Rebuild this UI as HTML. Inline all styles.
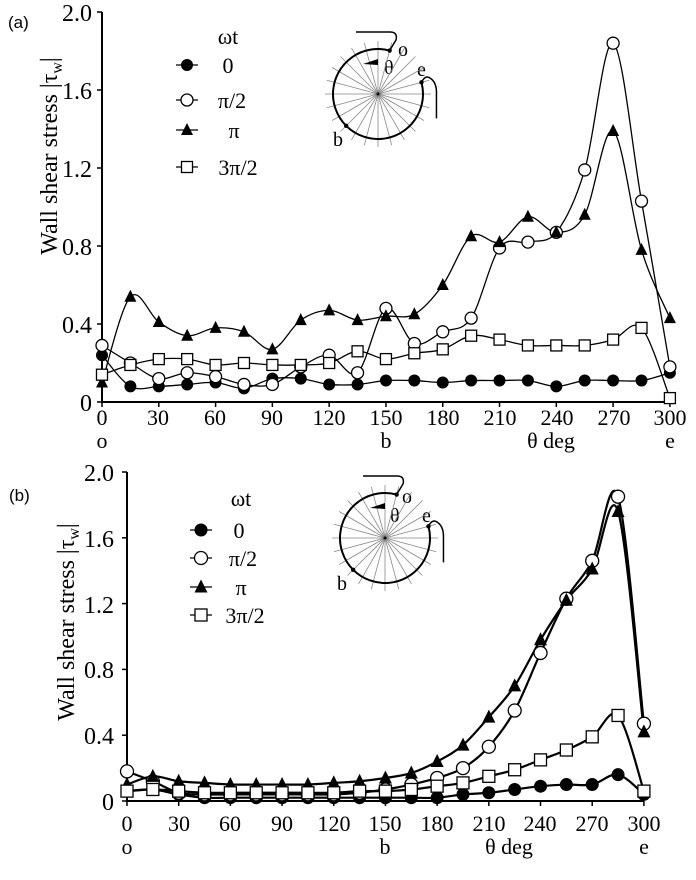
<!DOCTYPE html>
<html><head><meta charset="utf-8"><style>
html,body{margin:0;padding:0;background:#fff;}
svg{display:block;}
text{font-family:"Liberation Serif",serif;fill:#000;}
.sans{font-family:"Liberation Sans",sans-serif;}
</style></head><body>
<svg id="s" width="696" height="880" viewBox="0 0 696 880" xmlns="http://www.w3.org/2000/svg">
<!-- Panel a static text -->
<text class="sans" x="8" y="28" font-size="17">(a)</text>
<g font-size="24" text-anchor="end">
<text x="92" y="21">2.0</text><text x="92" y="99">1.6</text><text x="92" y="177">1.2</text>
<text x="92" y="255">0.8</text><text x="92" y="333">0.4</text><text x="92" y="411">0</text>
</g>
<g font-size="22" text-anchor="middle">
<text x="102" y="425">0</text><text x="158" y="425">30</text><text x="215" y="425">60</text>
<text x="272" y="425">90</text><text x="329" y="425">120</text><text x="386" y="425">150</text>
<text x="443" y="425">180</text><text x="500" y="425">210</text><text x="557" y="425">240</text>
<text x="614" y="425">270</text><text x="670" y="425">300</text>
<text x="102" y="448">o</text><text x="386" y="448">b</text><text x="551" y="448">θ deg</text><text x="670" y="448">e</text>
</g>
<text font-size="24" transform="translate(57,156) rotate(-90)" text-anchor="middle">Wall shear stress |τ<tspan font-size="16" dy="5">w</tspan><tspan dy="-5">|</tspan></text>
<g font-size="22" text-anchor="middle">
<text x="228" y="44">ωt</text><text x="228" y="73">0</text><text x="232" y="108">π/2</text>
<text x="234" y="138">π</text><text x="238" y="175">3π/2</text>
</g>
<g font-size="20"><text x="398" y="56">o</text><text x="384" y="74">θ</text><text x="417" y="76">e</text><text x="333" y="146">b</text></g>

<!-- Panel b static text -->
<text class="sans" x="9" y="501" font-size="17">(b)</text>
<g font-size="24" text-anchor="end">
<text x="114" y="481">2.0</text><text x="114" y="547">1.6</text><text x="114" y="613">1.2</text>
<text x="114" y="678">0.8</text><text x="114" y="744">0.4</text><text x="114" y="810">0</text>
</g>
<g font-size="22" text-anchor="middle">
<text x="127" y="831">0</text><text x="179" y="831">30</text><text x="230" y="831">60</text>
<text x="282" y="831">90</text><text x="334" y="831">120</text><text x="385" y="831">150</text>
<text x="437" y="831">180</text><text x="489" y="831">210</text><text x="540" y="831">240</text>
<text x="592" y="831">270</text><text x="644" y="831">300</text>
<text x="127" y="854">o</text><text x="385" y="854">b</text><text x="509" y="854">θ deg</text><text x="644" y="854">e</text>
</g>
<text font-size="24" transform="translate(74,622) rotate(-90)" text-anchor="middle">Wall shear stress |τ<tspan font-size="16" dy="5">w</tspan><tspan dy="-5">|</tspan></text>
<g font-size="22" text-anchor="middle">
<text x="241" y="506">ωt</text><text x="239" y="538">0</text><text x="243" y="566">π/2</text>
<text x="241" y="595">π</text><text x="245" y="623">3π/2</text>
</g>
<g font-size="20"><text x="402" y="503">o</text><text x="390" y="522">θ</text><text x="422" y="522">e</text><text x="337" y="590">b</text></g>
<g id="dyn"></g>
</svg>
<script>
var NS="http://www.w3.org/2000/svg",g=document.getElementById("dyn");
function el(t,a){var e=document.createElementNS(NS,t);for(var k in a)e.setAttribute(k,a[k]);g.appendChild(e);return e;}
function marker(type,x,y,r){
 if(type==0)el("circle",{cx:x,cy:y,r:r,fill:"#000"});
 else if(type==1)el("circle",{cx:x,cy:y,r:r,fill:"#fff",stroke:"#000","stroke-width":1.3});
 else if(type==2)el("polygon",{points:(x)+","+(y-r-1)+" "+(x-r)+","+(y+r-1)+" "+(x+r)+","+(y+r-1),fill:"#000"});
 else el("rect",{x:x-r+0.5,y:y-r+0.5,width:2*r-1,height:2*r-1,fill:"#fff",stroke:"#000","stroke-width":1.3});
}
function smooth(p){var d="M"+p[0][0]+","+p[0][1];
 for(var i=0;i<p.length-1;i++){var p0=p[i-1]||p[i],p1=p[i],p2=p[i+1],p3=p[i+2]||p2;
  d+=" C"+(p1[0]+(p2[0]-p0[0])/6)+","+(p1[1]+(p2[1]-p0[1])/6)+" "+(p2[0]-(p3[0]-p1[0])/6)+","+(p2[1]-(p3[1]-p1[1])/6)+" "+p2[0]+","+p2[1];}
 return d;}
function panel(P){
 // axes
 el("path",{d:"M"+P.x0+","+P.yt+" L"+P.x0+","+P.y0+" L"+P.x1+","+P.y0,fill:"none",stroke:"#000","stroke-width":2});
 for(var i=0;i<=5;i++){var y=P.y0-i*0.4*P.sy;el("line",{x1:P.x0-5,y1:y,x2:P.x0,y2:y,stroke:"#000","stroke-width":1.5});}
 for(var i=0;i<=10;i++){var x=P.x0+i*30*P.sx;el("line",{x1:x,y1:P.y0,x2:x,y2:P.y0+5,stroke:"#000","stroke-width":1.5});}
 P.data.forEach(function(d,k){var pts=d.map(function(v,i){return[P.x0+i*15*P.sx,P.y0-v*P.sy];});
  el("path",{d:smooth(pts),fill:"none",stroke:"#000","stroke-width":P.lw});});
 P.data.forEach(function(d,k){d.forEach(function(v,i){marker(k,P.x0+i*15*P.sx,P.y0-v*P.sy,P.r);});});
 // legend
 P.leg.forEach(function(y,k){el("line",{x1:P.lx-11,y1:y,x2:P.lx+11,y2:y,stroke:"#000","stroke-width":1.3});marker(k,P.lx,y,P.r);});
 // inset
 var cx=P.cx,cy=P.cy,R=45;
 for(var a=0;a<360;a+=15){var t=a*Math.PI/180;el("line",{x1:cx,y1:cy,x2:cx+53*Math.sin(t),y2:cy-53*Math.cos(t),stroke:"#888","stroke-width":0.8});}
 function pt(a){var t=a*Math.PI/180;return[cx+R*Math.sin(t),cy-R*Math.cos(t)];}
 var o=pt(15),e=pt(75),b=pt(225);
 el("path",{d:"M"+o[0]+","+o[1]+" A"+R+","+R+" 0 1 0 "+e[0]+","+e[1],fill:"none",stroke:"#000","stroke-width":2});
 el("path",{d:"M"+(cx-22)+","+(cy-62)+" L"+(cx+12)+","+(cy-62)+" Q"+(cx+20)+","+(cy-62)+" "+(cx+18)+","+(cy-54)+" L"+o[0]+","+o[1],fill:"none",stroke:"#000","stroke-width":1.5});
 el("path",{d:"M"+e[0]+","+e[1]+" Q"+(e[0]+4)+","+(e[1]-8)+" "+(e[0]+9)+","+(e[1]-4)+" Q"+(e[0]+15)+","+(e[1])+" "+(e[0]+15)+","+(e[1]+10)+" L"+(e[0]+15)+","+(e[1]+36),fill:"none",stroke:"#000","stroke-width":1.5});
 [o,e,b].forEach(function(q){el("circle",{cx:q[0],cy:q[1],r:2.2,fill:"#000"});});
 el("polygon",{points:(cx-15)+","+(cy-30)+" "+(cx)+","+(cy-35)+" "+(cx)+","+(cy-29),fill:"#000"});
 el("circle",{cx:cx,cy:cy,r:1.5,fill:"#000"});
}
panel({x0:102,x1:670,y0:402,yt:12,sx:1.893,sy:195,lw:1.3,r:6,lx:187,leg:[65,100,130,167],cx:378,cy:94,
data:[
[0.24,0.08,0.08,0.09,0.10,0.07,0.12,0.12,0.09,0.09,0.11,0.11,0.10,0.11,0.11,0.11,0.08,0.11,0.11,0.11,0.15],
[0.29,0.20,0.12,0.15,0.13,0.09,0.09,0.18,0.24,0.15,0.48,0.30,0.36,0.43,0.79,0.82,0.87,1.19,1.84,1.03,0.18],
[0.10,0.54,0.41,0.34,0.38,0.36,0.27,0.42,0.47,0.42,0.44,0.45,0.60,0.85,0.82,0.95,0.87,0.96,1.39,0.78,0.43],
[0.14,0.19,0.22,0.22,0.19,0.20,0.19,0.19,0.20,0.26,0.22,0.25,0.27,0.34,0.32,0.29,0.29,0.29,0.32,0.38,0.02]]});
panel({x0:127,x1:644,y0:801,yt:472,sx:1.723,sy:164.5,lw:2.2,r:6.5,lx:201,leg:[530,558,587,615],cx:385,cy:538,
data:[
[0.06,0.07,0.04,0.02,0.02,0.02,0.02,0.02,0.02,0.02,0.02,0.02,0.02,0.04,0.05,0.07,0.09,0.10,0.10,0.16,0.04],
[0.18,0.12,0.05,0.04,0.04,0.04,0.04,0.04,0.04,0.05,0.07,0.10,0.14,0.20,0.33,0.55,0.90,1.23,1.46,1.85,0.47],
[0.10,0.15,0.12,0.11,0.10,0.10,0.10,0.10,0.11,0.12,0.14,0.17,0.24,0.34,0.51,0.70,0.98,1.22,1.41,1.76,0.42],
[0.06,0.07,0.06,0.05,0.05,0.05,0.05,0.05,0.05,0.06,0.06,0.07,0.09,0.11,0.15,0.19,0.25,0.31,0.39,0.52,0.06]]});
</script>
</body></html>
